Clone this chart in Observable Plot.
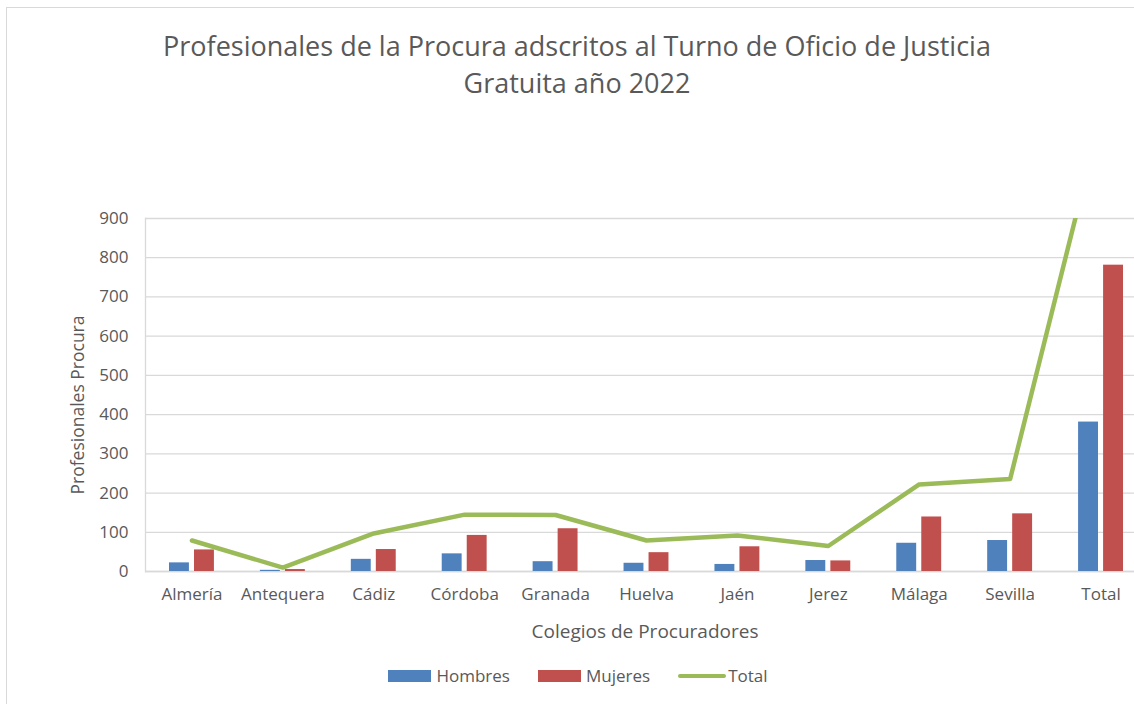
<!DOCTYPE html>
<html>
<head>
<meta charset="utf-8">
<script src="https://cdn.jsdelivr.net/npm/d3@7"></script>
<script src="https://cdn.jsdelivr.net/npm/@observablehq/plot@0.6"></script>
<style>
  html, body { margin: 0; padding: 0; background: #fff; overflow: hidden; }
  #wrap { position: relative; width: 1134px; height: 704px; overflow: hidden; font-family: "Open Sans", Lato, sans-serif; color: #595959; }
  #border { position: absolute; left: 6px; top: 7px; width: 1200px; height: 800px; border: 1.5px solid #d9d9d9; box-sizing: border-box; }
  #title { position: absolute; left: 0; top: 27px; width: 1154px; text-align: center; font-size: 27px; line-height: 37px; color: #595959; }
  #plot { position: absolute; left: 0; top: 120px; }
  #ylabel { position: absolute; left: 77px; top: 405px; transform: translate(-50%, -50%) rotate(-90deg); white-space: nowrap; font-size: 17.5px; line-height: 20px; }
  #xlabel { position: absolute; left: 645px; top: 631px; transform: translate(-50%, -50%); white-space: nowrap; font-size: 19px; line-height: 22px; }
  #legend { position: absolute; left: 0; top: 664px; width: 1156px; display: flex; justify-content: center; align-items: center; font-size: 17px; color: #595959; }
  .item { display: flex; align-items: center; margin: 0 14px; }
  .sw { width: 43px; height: 12px; margin-right: 5px; }
  .ln { width: 48px; height: 4px; border-radius: 2px; margin-right: 2px; }
</style>
</head>
<body>
<div id="wrap">
  <div id="border"></div>
  <div id="title">Profesionales de la Procura adscritos al Turno de Oficio de Justicia<br>Gratuita año 2022</div>
  <div id="plot"></div>
  <div id="ylabel">Profesionales Procura</div>
  <div id="xlabel">Colegios de Procuradores</div>
  <div id="legend">
    <div class="item"><div class="sw" style="background:#4f81bd"></div>Hombres</div>
    <div class="item"><div class="sw" style="background:#c0504d"></div>Mujeres</div>
    <div class="item"><div class="ln" style="background:#9bbb59"></div>Total</div>
  </div>
</div>
<script>
const colegios = ["Almería", "Antequera", "Cádiz", "Córdoba", "Granada", "Huelva", "Jaén", "Jerez", "Málaga", "Sevilla", "Total"];
const hombres = [22, 3, 31, 45, 25, 21, 18, 28, 72, 79, 381];
const mujeres = [55, 5, 56, 92, 109, 48, 63, 27, 139, 147, 781];
const totales = [79, 10, 97, 145, 144, 79, 92, 65, 222, 236, 1162];
const yTicks = [0, 100, 200, 300, 400, 500, 600, 700, 800, 900];

const rowsH = colegios.map((c, i) => ({colegio: c, valor: hombres[i]}));
const rowsM = colegios.map((c, i) => ({colegio: c, valor: mujeres[i]}));
const rowsT = colegios.map((c, i) => ({colegio: c, valor: totales[i]}));

const chart = Plot.plot({
  width: 1134,
  height: 540,
  marginTop: 98,
  marginBottom: 89,
  marginLeft: 145,
  marginRight: 0,
  style: {fontFamily: "'Open Sans', Lato, sans-serif", fontSize: "17px", color: "#595959", background: "transparent"},
  x: {domain: colegios, range: [146, 1146], padding: 0, round: false, label: null},
  y: {domain: [0, 900], label: null},
  marks: [
    Plot.gridY(yTicks, {stroke: "#d9d9d9", strokeOpacity: 1, strokeWidth: 1.3}),
    Plot.ruleY([0], {stroke: "#d9d9d9", strokeWidth: 1.5}),
    Plot.frame({anchor: "left", stroke: "#d9d9d9", strokeWidth: 1.3}),
    Plot.barY(rowsH, {x: "colegio", y: "valor", fill: "#4f81bd", insetLeft: 23, insetRight: 48}),
    Plot.barY(rowsM, {x: "colegio", y: "valor", fill: "#c0504d", insetLeft: 48, insetRight: 23}),
    Plot.lineY(rowsT, {x: "colegio", y: "valor", stroke: "#9bbb59", strokeWidth: 4.5, clip: true}),
    Plot.axisY(yTicks, {tickSize: 0, tickPadding: 17, label: null, fill: "#595959"}),
    Plot.axisX({tickSize: 0, tickPadding: 16, label: null, fill: "#595959"})
  ]
});
document.getElementById("plot").appendChild(chart);
</script>
</body>
</html>
